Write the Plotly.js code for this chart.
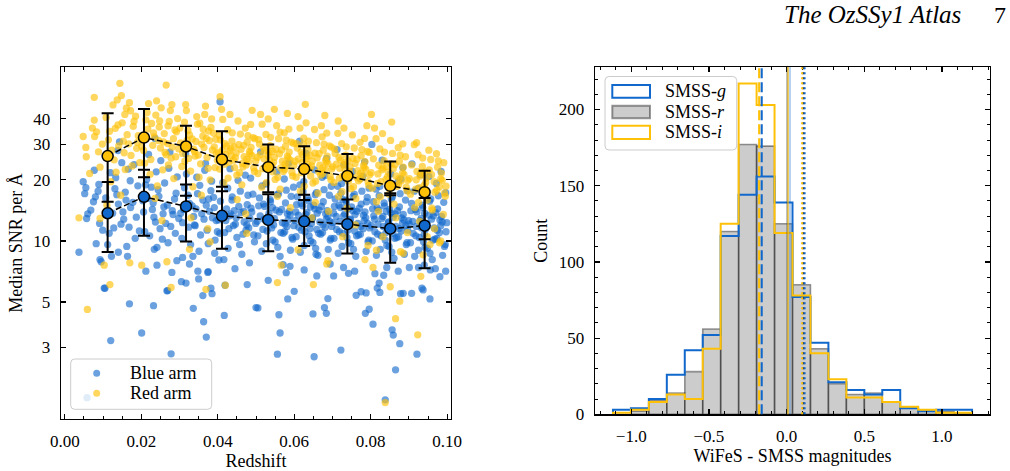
<!DOCTYPE html>
<html>
<head>
<meta charset="utf-8">
<script src="https://cdn.plot.ly/plotly-3.0.1.min.js"></script>
<style>
  html, body { margin: 0; padding: 0; background: #ffffff; }
  #chart { width: 1010px; height: 471px; }
</style>
</head>
<body>
<div id="chart"></div>
<script>
// ---------- Left panel: median SNR per Angstrom against redshift ----------
// Individual spectra, blue arm: [redshift, median SNR]
const blueArm = [
  // sparse low-redshift and low-SNR objects
  [0.0037,8.8],[0.0048,19.6],[0.0055,18.3],[0.0052,17.1],[0.0057,12.9],[0.0060,13.6],[0.0077,22.3],[0.0075,15.6],[0.0080,16.5],[0.0082,9.7],[0.0092,8.1],[0.0095,7.9],[0.0091,12.2],[0.0099,11.3],[0.0089,19.0],[0.0068,14.2],[0.0105,5.85],[0.0087,17.6],[0.0058,1.69],
  [0.0120,3.23],[0.0103,5.86],[0.0112,9.6],[0.0169,4.9],[0.0140,8.8],[0.0164,8.4],[0.0201,3.52],[0.0212,7.1],[0.0232,4.8],[0.0241,7.6],[0.0234,9.1],[0.0269,5.7],[0.0278,2.78],[0.0280,7.0],[0.0267,5.68],[0.0293,8.0],
  [0.0305,6.3],[0.0308,8.3],[0.0317,6.2],[0.0326,7.7],[0.0336,4.66],[0.0348,7.1],[0.0350,6.5],[0.0361,5.38],[0.0363,4.0],[0.0370,3.36],[0.0374,7.0],[0.0382,5.85],[0.0385,5.5],[0.0375,7.07],[0.0392,8.7],
  [0.0403,8.06],[0.0406,48.5],[0.0417,4.3],[0.0419,6.05],[0.0477,6.1],[0.0500,4.7],[0.0445,7.3],[0.0483,7.8],[0.0505,4.68],[0.0532,6.4],[0.0556,2.77],[0.0560,4.33],[0.0563,3.52],[0.0571,7.64],[0.0579,6.98],[0.0583,5.18],[0.0600,5.65],[0.0589,7.5],
  [0.0649,4.37],[0.0652,2.69],[0.0657,8.6],[0.0659,6.73],[0.0679,4.7],[0.0684,4.4],[0.0688,5.2],[0.0626,7.2],[0.0694,7.7],[0.0703,6.73],[0.0722,2.9],[0.0742,6.93],[0.0762,5.4],[0.0775,5.62],[0.0786,4.4],[0.0788,5.55],[0.0796,4.61],[0.0729,7.4],[0.0758,7.1],
  [0.0806,3.89],[0.0817,5.86],[0.0824,5.58],[0.0822,6.2],[0.0834,6.78],[0.0838,1.65],[0.0856,3.65],[0.0859,3.44],[0.0865,2.32],[0.0876,3.12],[0.0878,5.5],[0.0885,5.52],[0.0842,7.4],[0.0872,7.1],[0.0811,6.9],
  [0.0901,7.4],[0.0907,5.52],[0.0921,2.77],[0.0925,7.4],[0.0934,5.85],[0.0937,5.74],[0.0955,5.18],[0.0956,7.2],[0.0981,6.67],[0.0996,7.1],[0.0940,7.6],[0.0969,7.3],
  // main cloud, z = 0.01-0.02
  [0.0113,14.2],[0.0171,19.8],[0.0128,11.6],[0.0149,24.3],[0.0187,13.1],[0.0136,16.9],[0.0162,9.4],[0.0119,21.7],[0.0154,12.8],[0.0178,15.5],[0.0143,30.8],[0.0131,18.1],[0.0195,11.2],[0.0107,16.3],[0.0166,22.6],[0.0125,13.7],[0.0158,17.4],[0.0184,10.3],[0.0139,27.9],[0.0116,10.9],[0.0172,14.6],[0.0147,12.1],[0.0191,18.7],[0.0133,20.5],[0.0160,15.9],[0.0122,8.4],[0.0181,23.8],[0.0152,13.9],[0.0168,11.7],[0.0140,15.2],
  // z = 0.02-0.03
  [0.0204,15.8],[0.0237,12.4],[0.0261,19.3],[0.0219,26.7],[0.0283,13.5],[0.0246,16.6],[0.0209,11.1],[0.0272,22.8],[0.0229,14.3],[0.0255,10.2],[0.0291,17.2],[0.0214,20.1],[0.0268,15.0],[0.0241,9.3],[0.0298,12.9],[0.0226,18.4],[0.0277,11.8],[0.0251,24.9],[0.0233,13.1],[0.0287,16.1],[0.0206,13.9],[0.0259,14.7],[0.0222,10.6],[0.0294,20.7],[0.0244,17.9],[0.0270,9.8],[0.0216,16.2],[0.0281,14.1],[0.0239,21.9],[0.0264,12.2],[0.0211,18.9],[0.0249,11.5],[0.0275,27.4],[0.0231,15.4],[0.0289,10.9],[0.0257,13.6],[0.0236,32.0],
  // z = 0.03-0.04
  [0.0303,13.7],[0.0347,17.1],[0.0372,11.3],[0.0318,21.4],[0.0391,14.6],[0.0329,9.6],[0.0361,15.9],[0.0308,12.3],[0.0384,19.7],[0.0337,13.2],[0.0355,10.7],[0.0396,12.6],[0.0322,16.8],[0.0368,24.1],[0.0341,11.9],[0.0313,18.3],[0.0378,14.0],[0.0351,8.9],[0.0389,16.4],[0.0333,14.9],[0.0364,12.8],[0.0306,10.3],[0.0345,20.6],[0.0375,9.7],[0.0326,15.3],[0.0399,11.1],[0.0358,13.6],[0.0316,26.8],[0.0382,17.7],[0.0339,12.0],[0.0370,15.0],[0.0311,14.3],[0.0353,18.8],[0.0393,10.1],[0.0324,11.7],[0.0366,22.3],[0.0343,14.4],[0.0386,13.0],[0.0335,8.4],[0.0376,16.1],
  // z = 0.04-0.05
  [0.0402,12.7],[0.0438,16.5],[0.0466,10.8],[0.0413,19.4],[0.0489,13.9],[0.0427,9.2],[0.0455,14.8],[0.0481,11.6],[0.0407,15.7],[0.0446,12.1],[0.0472,21.1],[0.0431,13.3],[0.0496,9.9],[0.0418,11.0],[0.0459,17.6],[0.0484,12.9],[0.0423,14.4],[0.0450,10.4],[0.0477,15.1],[0.0410,24.6],[0.0441,11.9],[0.0492,17.0],[0.0434,13.6],[0.0463,8.6],[0.0405,10.9],[0.0469,12.4],[0.0426,18.2],[0.0487,14.5],[0.0448,13.0],[0.0416,8.1],[0.0474,11.3],[0.0437,15.9],[0.0499,12.2],[0.0453,19.9],[0.0421,12.6],[0.0461,13.8],[0.0494,10.7],[0.0443,14.1],[0.0479,16.8],[0.0429,11.5],[0.0457,9.6],[0.0412,13.4],[0.0486,20.4],[0.0468,14.0],[0.0432,22.7],[0.0476,12.0],
  // z = 0.05-0.06
  [0.0503,12.5],[0.0538,15.6],[0.0571,10.9],[0.0516,18.7],[0.0589,13.4],[0.0527,9.7],[0.0552,14.2],[0.0581,11.8],[0.0509,16.3],[0.0546,12.0],[0.0574,20.2],[0.0531,13.1],[0.0596,10.2],[0.0518,11.4],[0.0559,17.1],[0.0584,12.7],[0.0523,14.8],[0.0550,9.9],[0.0577,15.4],[0.0512,27.5],[0.0541,11.6],[0.0592,16.6],[0.0534,13.7],[0.0563,8.4],[0.0505,10.6],[0.0569,12.3],[0.0526,19.1],[0.0587,14.0],[0.0548,12.9],[0.0515,8.9],[0.0575,11.1],[0.0537,16.0],[0.0599,11.9],[0.0554,21.9],[0.0521,12.8],[0.0561,13.9],[0.0594,10.4],[0.0543,14.6],[0.0579,17.8],[0.0529,11.2],[0.0557,9.3],[0.0511,13.3],[0.0586,24.2],[0.0567,14.3],[0.0532,23.0],[0.0576,12.1],[0.0507,14.9],[0.0544,10.1],[0.0582,13.6],[0.0520,15.2],[0.0565,11.0],[0.0598,18.4],[0.0535,12.4],[0.0556,16.9],[0.0590,9.0],
  // z = 0.06-0.07
  [0.0602,12.6],[0.0637,15.8],[0.0669,10.8],[0.0615,18.9],[0.0688,13.2],[0.0626,9.5],[0.0654,14.4],[0.0681,11.7],[0.0608,16.5],[0.0645,12.2],[0.0673,20.6],[0.0630,13.5],[0.0696,10.3],[0.0619,11.3],[0.0658,17.3],[0.0684,12.8],[0.0622,14.9],[0.0649,9.8],[0.0676,15.6],[0.0614,31.0],[0.0641,11.5],[0.0692,16.8],[0.0633,13.8],[0.0662,8.5],[0.0605,10.5],[0.0667,12.4],[0.0625,19.6],[0.0686,14.1],[0.0647,12.9],[0.0616,8.8],[0.0674,11.0],[0.0636,16.2],[0.0698,11.8],[0.0653,22.4],[0.0620,12.7],[0.0660,13.7],[0.0694,10.1],[0.0642,14.7],[0.0678,17.9],[0.0628,11.1],[0.0656,9.2],[0.0611,13.4],[0.0685,25.5],[0.0665,14.2],[0.0631,27.0],[0.0675,12.0],[0.0606,15.1],[0.0643,10.0],[0.0682,13.6],[0.0618,15.3],[0.0664,10.9],[0.0697,18.6],[0.0634,12.3],[0.0655,16.9],[0.0689,9.1],[0.0612,11.7],[0.0648,13.0],[0.0671,14.8],[0.0639,10.6],[0.0693,12.5],[0.0623,17.5],[0.0659,11.4],[0.0680,21.0],[0.0604,13.9],[0.0651,15.0],
  // z = 0.07-0.08
  [0.0701,12.3],[0.0736,15.4],[0.0768,10.7],[0.0714,18.6],[0.0787,13.0],[0.0725,9.4],[0.0753,14.1],[0.0780,11.5],[0.0707,16.1],[0.0744,12.0],[0.0772,20.3],[0.0729,13.3],[0.0795,10.1],[0.0718,11.1],[0.0757,17.0],[0.0783,12.6],[0.0721,14.6],[0.0748,9.7],[0.0775,15.2],[0.0712,28.2],[0.0740,11.3],[0.0791,16.4],[0.0732,13.6],[0.0761,8.4],[0.0704,10.3],[0.0766,12.2],[0.0724,19.2],[0.0785,13.9],[0.0746,12.7],[0.0715,8.7],[0.0773,10.8],[0.0735,15.9],[0.0797,11.6],[0.0752,22.0],[0.0719,12.5],[0.0759,13.5],[0.0793,9.9],[0.0741,14.4],[0.0777,17.6],[0.0727,10.9],[0.0755,9.1],[0.0710,13.2],[0.0784,24.5],[0.0764,14.0],[0.0730,23.7],[0.0774,11.8],[0.0705,14.8],[0.0742,9.8],[0.0781,13.4],[0.0717,15.0],[0.0763,10.6],[0.0796,18.2],[0.0733,12.1],[0.0754,16.6],[0.0788,8.9],[0.0711,11.4],[0.0747,12.8],[0.0770,14.5],[0.0738,10.4],[0.0792,12.2],[0.0722,17.2],[0.0758,11.2],[0.0779,20.8],[0.0703,13.7],[0.0750,14.7],[0.0789,15.6],[0.0727,16.0],
  // z = 0.08-0.09
  [0.0801,11.9],[0.0836,14.9],[0.0868,10.4],[0.0814,18.0],[0.0887,12.7],[0.0825,9.1],[0.0853,13.7],[0.0880,11.2],[0.0807,15.6],[0.0844,11.7],[0.0872,19.7],[0.0829,12.9],[0.0895,9.8],[0.0818,10.8],[0.0857,16.5],[0.0883,12.2],[0.0821,14.2],[0.0848,9.4],[0.0875,14.7],[0.0803,29.9],[0.0840,11.0],[0.0891,15.9],[0.0832,13.2],[0.0861,8.2],[0.0804,10.0],[0.0866,11.8],[0.0824,18.6],[0.0885,13.5],[0.0846,12.3],[0.0815,8.5],[0.0873,10.5],[0.0835,15.4],[0.0897,11.3],[0.0852,21.4],[0.0819,12.1],[0.0859,13.1],[0.0893,9.6],[0.0841,14.0],[0.0877,17.1],[0.0827,10.6],[0.0855,8.8],[0.0810,12.8],[0.0884,23.0],[0.0864,13.6],[0.0830,25.0],[0.0874,11.5],[0.0805,14.4],[0.0842,9.5],[0.0881,13.0],[0.0817,14.6],[0.0863,10.3],[0.0896,17.7],[0.0833,11.8],[0.0854,16.1],[0.0888,8.6],[0.0811,11.1],[0.0847,12.4],[0.0870,14.1],[0.0838,10.1],[0.0892,11.9],[0.0822,16.7],[0.0858,10.9],[0.0879,20.2],[0.0808,13.3],[0.0850,14.3],[0.0899,12.6],
  // z = 0.09-0.10
  [0.0901,12.1],[0.0936,14.6],[0.0968,10.2],[0.0914,17.6],[0.0987,12.4],[0.0925,9.0],[0.0953,13.4],[0.0980,11.0],[0.0907,15.3],[0.0944,11.5],[0.0972,19.2],[0.0929,12.6],[0.0995,9.6],[0.0918,10.6],[0.0957,16.1],[0.0983,11.9],[0.0921,13.9],[0.0948,9.2],[0.0975,14.4],[0.0908,24.0],[0.0940,10.8],[0.0991,15.5],[0.0932,12.9],[0.0961,8.1],[0.0904,9.8],[0.0966,11.6],[0.0924,18.1],[0.0985,13.2],[0.0946,12.0],[0.0915,8.4],[0.0973,10.3],[0.0935,15.0],[0.0997,11.1],[0.0952,20.8],[0.0919,11.8],[0.0959,12.8],[0.0993,9.4],[0.0941,13.7],[0.0977,16.7],[0.0927,10.4],[0.0955,8.7],[0.0910,12.5],[0.0984,22.0],[0.0964,13.3],[0.0930,21.2],[0.0974,11.3],[0.0905,14.1],[0.0942,9.3],[0.0981,12.7],[0.0917,14.3],[0.0963,10.1],[0.0996,17.3],[0.0933,11.6],[0.0954,15.7],[0.0988,8.5],[0.0911,10.9],[0.0947,12.2],[0.0970,13.8],[0.0938,9.9],[0.0999,12.3]
];

// Individual spectra, red arm: [redshift, median SNR]
const redArm = [
  // sparse low-redshift and low-SNR objects
  [0.0037,13.0],[0.0048,32.7],[0.0055,28.9],[0.0056,26.0],[0.0059,4.6],[0.0077,51.0],[0.0077,39.4],[0.0083,34.5],[0.0078,32.7],[0.0092,23.1],[0.0092,12.9],[0.0065,21.5],[0.0088,27.5],[0.0072,36.0],[0.0098,30.0],
  [0.0103,7.6],[0.0118,6.1],[0.0170,7.8],[0.0201,7.6],[0.0267,7.9],[0.0278,5.9],[0.0326,9.1],[0.0369,5.78],[0.0380,9.9],[0.0420,6.05],[0.0476,10.9],[0.0556,6.24],[0.0566,7.6],[0.0610,9.05],[0.0650,6.1],[0.0685,7.7],[0.0688,8.0],[0.0806,7.4],[0.0785,8.1],[0.0815,9.0],[0.0851,5.95],[0.0865,4.14],[0.0876,5.05],[0.0878,8.85],[0.0885,8.7],[0.0838,1.6],[0.0923,3.45],[0.0931,6.7],[0.0937,8.55],[0.0955,9.6],[0.0980,9.8],
  // z = 0.01-0.02
  [0.0114,31.5],[0.0172,43.8],[0.0129,25.1],[0.0150,38.2],[0.0188,28.6],[0.0137,49.5],[0.0163,33.4],[0.0120,19.6],[0.0155,27.2],[0.0179,36.7],[0.0144,59.8],[0.0132,35.9],[0.0196,24.3],[0.0108,40.6],[0.0167,30.1],[0.0126,46.8],[0.0158,22.5],[0.0185,41.2],[0.0141,29.4],[0.0117,34.7],[0.0173,26.4],[0.0148,52.0],[0.0192,33.0],[0.0134,21.8],[0.0161,45.1],[0.0123,28.0],[0.0181,38.9],[0.0153,31.0],[0.0169,48.0],[0.0139,37.3],[0.0146,16.8],[0.0176,23.4],[0.0110,15.0],[0.0157,42.0],[0.0190,30.6],
  // z = 0.02-0.03
  [0.0204,33.1],[0.0238,41.7],[0.0262,27.3],[0.0219,47.5],[0.0284,31.9],[0.0247,36.4],[0.0209,24.2],[0.0273,38.8],[0.0230,29.6],[0.0256,22.4],[0.0292,34.5],[0.0215,43.0],[0.0269,30.2],[0.0242,18.7],[0.0298,28.4],[0.0227,37.9],[0.0278,25.6],[0.0252,45.3],[0.0234,32.6],[0.0288,35.2],[0.0206,27.9],[0.0260,33.8],[0.0223,21.3],[0.0295,40.1],[0.0245,31.3],[0.0271,23.7],[0.0217,35.6],[0.0281,29.0],[0.0240,49.0],[0.0265,26.6],[0.0212,39.5],[0.0250,28.7],[0.0276,43.9],[0.0232,34.1],[0.0290,26.0],[0.0258,30.8],[0.0265,58.6],[0.0225,25.2],[0.0285,20.3],[0.0248,39.0],[0.0236,16.2],[0.0270,36.9],[0.0201,29.2],[0.0254,12.6],[0.0280,47.0],
  // z = 0.03-0.04
  [0.0303,30.4],[0.0347,37.6],[0.0372,25.8],[0.0318,43.9],[0.0391,29.1],[0.0329,22.1],[0.0361,32.8],[0.0308,27.0],[0.0384,39.9],[0.0337,28.3],[0.0355,24.0],[0.0396,26.9],[0.0322,35.0],[0.0368,46.2],[0.0341,26.2],[0.0313,38.5],[0.0378,31.2],[0.0351,20.6],[0.0389,34.0],[0.0333,31.8],[0.0364,28.9],[0.0306,23.3],[0.0345,41.0],[0.0375,22.8],[0.0326,33.3],[0.0399,25.0],[0.0358,30.0],[0.0316,47.0],[0.0382,36.3],[0.0339,27.6],[0.0370,32.0],[0.0311,29.8],[0.0353,38.0],[0.0393,23.0],[0.0324,25.5],[0.0366,42.0],[0.0343,30.9],[0.0386,28.1],[0.0335,18.5],[0.0376,34.8],[0.0301,36.0],[0.0349,26.5],[0.0380,20.0],[0.0320,31.4],[0.0362,35.5],[0.0395,31.7],[0.0330,13.0],[0.0374,11.5],[0.0357,16.8],[0.0314,24.7],
  // z = 0.04-0.05
  [0.0402,27.3],[0.0438,34.1],[0.0466,23.2],[0.0413,39.7],[0.0489,26.4],[0.0427,20.4],[0.0455,29.8],[0.0481,24.6],[0.0407,31.5],[0.0446,25.7],[0.0472,36.0],[0.0431,27.8],[0.0496,22.0],[0.0418,23.9],[0.0459,33.6],[0.0484,26.9],[0.0423,29.4],[0.0450,21.1],[0.0477,30.7],[0.0410,44.5],[0.0441,25.0],[0.0492,32.3],[0.0434,28.6],[0.0463,18.9],[0.0405,22.6],[0.0469,26.0],[0.0426,35.3],[0.0487,28.9],[0.0448,27.1],[0.0416,19.3],[0.0474,23.7],[0.0437,31.0],[0.0499,24.8],[0.0453,39.0],[0.0421,26.7],[0.0461,28.3],[0.0494,22.9],[0.0443,29.1],[0.0479,33.0],[0.0429,24.4],[0.0457,21.7],[0.0412,28.0],[0.0486,37.5],[0.0468,29.6],[0.0432,42.0],[0.0476,25.3],[0.0404,33.2],[0.0444,23.0],[0.0483,27.6],[0.0419,30.2],[0.0465,24.1],[0.0497,31.9],[0.0435,26.3],[0.0406,51.4],[0.0490,44.0],[0.0451,16.0],[0.0473,13.6],
  // z = 0.05-0.06
  [0.0503,25.8],[0.0538,32.4],[0.0571,22.0],[0.0516,37.6],[0.0589,25.1],[0.0527,19.4],[0.0552,28.3],[0.0581,23.4],[0.0509,30.0],[0.0546,24.4],[0.0574,34.1],[0.0531,26.4],[0.0596,20.9],[0.0518,22.7],[0.0559,31.9],[0.0584,25.6],[0.0523,27.9],[0.0550,20.1],[0.0577,29.2],[0.0512,42.0],[0.0541,23.8],[0.0592,30.7],[0.0534,27.2],[0.0563,18.0],[0.0505,21.5],[0.0569,24.7],[0.0526,33.5],[0.0587,27.4],[0.0548,25.8],[0.0515,18.4],[0.0575,22.5],[0.0537,29.5],[0.0599,23.6],[0.0554,37.0],[0.0521,25.4],[0.0561,26.9],[0.0594,21.8],[0.0543,27.6],[0.0579,31.4],[0.0529,23.2],[0.0557,20.6],[0.0511,26.6],[0.0586,35.6],[0.0567,28.1],[0.0532,39.9],[0.0576,24.0],[0.0507,31.6],[0.0544,21.9],[0.0582,26.2],[0.0520,28.7],[0.0565,22.9],[0.0598,30.3],[0.0535,25.0],[0.0548,44.5],[0.0582,42.5],[0.0556,16.6],[0.0590,14.6],[0.0528,12.5],[0.0563,34.4],[0.0539,23.0],
  // z = 0.06-0.07
  [0.0602,24.7],[0.0637,31.0],[0.0669,21.1],[0.0615,36.0],[0.0688,24.1],[0.0626,18.6],[0.0654,27.1],[0.0681,22.4],[0.0608,28.7],[0.0645,23.4],[0.0673,32.6],[0.0630,25.3],[0.0696,20.0],[0.0619,21.7],[0.0658,30.5],[0.0684,24.5],[0.0622,26.7],[0.0649,19.3],[0.0676,28.0],[0.0610,41.0],[0.0641,22.8],[0.0692,29.4],[0.0633,26.0],[0.0662,17.2],[0.0605,20.6],[0.0667,23.6],[0.0625,32.1],[0.0686,26.2],[0.0647,24.7],[0.0616,17.6],[0.0674,21.5],[0.0636,28.2],[0.0698,22.6],[0.0653,35.4],[0.0620,24.3],[0.0660,25.7],[0.0694,20.8],[0.0642,26.4],[0.0678,30.0],[0.0628,22.2],[0.0656,19.7],[0.0611,25.4],[0.0685,34.0],[0.0665,26.9],[0.0631,38.2],[0.0675,23.0],[0.0606,30.2],[0.0643,20.9],[0.0682,25.0],[0.0618,27.4],[0.0664,21.9],[0.0697,29.0],[0.0634,23.9],[0.0629,47.1],[0.0680,41.5],[0.0655,15.5],[0.0690,14.0],[0.0646,13.0],[0.0671,37.0],[0.0624,29.9],
  // z = 0.07-0.08
  [0.0701,23.2],[0.0736,29.1],[0.0768,19.8],[0.0714,33.9],[0.0787,22.6],[0.0725,17.5],[0.0753,25.5],[0.0780,21.1],[0.0707,27.0],[0.0744,22.0],[0.0772,30.6],[0.0729,23.8],[0.0795,18.8],[0.0718,20.4],[0.0757,28.7],[0.0783,23.0],[0.0721,25.1],[0.0748,18.1],[0.0775,26.3],[0.0715,39.0],[0.0740,21.4],[0.0791,27.6],[0.0732,24.4],[0.0761,16.2],[0.0704,19.4],[0.0766,22.2],[0.0724,30.2],[0.0785,24.6],[0.0746,23.2],[0.0716,16.6],[0.0773,20.2],[0.0735,26.5],[0.0797,21.2],[0.0752,33.3],[0.0719,22.8],[0.0759,24.1],[0.0793,19.6],[0.0741,24.8],[0.0777,28.2],[0.0727,20.9],[0.0755,18.5],[0.0710,23.9],[0.0784,32.0],[0.0764,25.3],[0.0730,36.0],[0.0774,21.6],[0.0705,28.4],[0.0742,19.7],[0.0781,23.5],[0.0717,25.8],[0.0763,20.6],[0.0796,27.3],[0.0733,22.5],[0.0790,37.0],[0.0760,12.0],[0.0727,10.5],[0.0793,9.5],[0.0738,14.5],
  // z = 0.08-0.09
  [0.0801,21.7],[0.0836,27.4],[0.0868,18.6],[0.0814,31.9],[0.0887,21.3],[0.0825,16.5],[0.0853,24.0],[0.0880,19.8],[0.0807,25.4],[0.0844,20.7],[0.0872,28.8],[0.0829,22.4],[0.0895,17.7],[0.0818,19.2],[0.0857,27.0],[0.0883,21.6],[0.0821,23.6],[0.0848,17.0],[0.0875,24.7],[0.0810,36.0],[0.0840,20.1],[0.0891,26.0],[0.0832,22.9],[0.0861,15.2],[0.0804,18.2],[0.0866,20.9],[0.0824,28.4],[0.0885,23.1],[0.0846,21.8],[0.0815,15.6],[0.0873,19.0],[0.0835,24.9],[0.0897,19.9],[0.0852,31.3],[0.0819,21.4],[0.0859,22.7],[0.0893,18.4],[0.0841,23.3],[0.0877,26.5],[0.0827,19.6],[0.0855,38.5],[0.0802,42.0],[0.0884,30.1],[0.0864,23.8],[0.0831,33.8],[0.0874,20.3],[0.0866,13.0],[0.0896,11.0],[0.0832,10.5],[0.0820,14.0],
  // z = 0.09-0.10
  [0.0901,20.3],[0.0936,25.6],[0.0968,17.4],[0.0914,29.8],[0.0987,19.9],[0.0925,15.5],[0.0953,22.4],[0.0980,18.5],[0.0907,23.7],[0.0944,19.4],[0.0972,26.9],[0.0929,20.9],[0.0995,16.6],[0.0918,18.0],[0.0957,25.2],[0.0983,20.2],[0.0921,22.0],[0.0948,15.9],[0.0975,23.1],[0.0920,30.5],[0.0940,18.8],[0.0991,24.3],[0.0932,21.4],[0.0961,14.2],[0.0904,17.0],[0.0966,19.6],[0.0924,26.6],[0.0985,21.6],[0.0946,20.4],[0.0915,14.6],[0.0973,17.8],[0.0935,23.3],[0.0997,18.6],[0.0952,28.0],[0.0919,20.0],[0.0959,21.2],[0.0993,17.2],[0.0941,21.8],[0.0977,24.8],[0.0927,18.3],[0.0960,14.5],[0.0990,13.5],[0.0928,12.5],[0.0967,11.5],[0.0948,10.5],[0.0983,10.0]
];

// Binned medians with their upper and lower percentile bounds
const binRedshift = [0.0112, 0.0207, 0.0317, 0.0411, 0.0532, 0.0626, 0.0739, 0.0851, 0.0941];
const blueMedian  = [13.7, 16.5, 14.8, 13.3, 12.7, 12.5, 12.1, 11.5, 11.9];
const blueUpper   = [19.5, 22.4, 19.0, 18.5, 17.0, 16.9, 16.0, 17.2, 16.3];
const blueLower   = [8.83, 10.6, 9.93, 9.16, 8.89, 9.45, 8.67, 7.82, 7.33];
const redMedian   = [26.2, 32.3, 29.2, 25.2, 23.1, 22.6, 20.9, 18.7, 17.4];
const redUpper    = [42.6, 44.7, 37.0, 34.7, 29.9, 29.3, 26.8, 24.6, 22.2];
const redLower    = [15.6, 20.6, 16.7, 17.6, 17.4, 15.9, 14.4, 16.8, 10.2];
const snrTicks    = [3, 5, 10, 20, 30, 40];

// ---------- Right panel: WiFeS minus SkyMapper magnitude offsets ----------
const binEdges = [-1.118, -1.0024, -0.8868, -0.7712, -0.6556, -0.54, -0.4244, -0.3088, -0.1932, -0.0776,
                  0.038, 0.1536, 0.2692, 0.3848, 0.5004, 0.616, 0.7316, 0.8472, 0.9628, 1.0784, 1.194];
const countG = [3, 4, 10, 26, 42, 52, 117, 144, 156, 139, 77, 47, 21, 16, 13, 16, 4, 2, 3, 3];
const countR = [0, 2, 9, 14, 28, 56, 120, 177, 176, 125, 85, 43, 20, 13, 14, 8, 4, 2, 2, 1];
const countI = [1, 3, 8, 13, 10, 43, 125, 217, 203, 119, 78, 40, 23, 11, 11, 8, 5, 3, 1, 1];
// summary offsets per band: [dashed, solid, dotted]
const linesG = [-0.160, 0.022, 0.116];
const linesR = [-0.168, 0.005, 0.108];
const linesI = [-0.177, 0.009, 0.100];

// ---------- styling ----------
const W = 1010, H = 471;
const BLUE = 'rgb(16,104,204)';
const BLUE_A = 'rgba(16,104,204,0.62)';
const AMBER = 'rgb(255,193,7)';
const AMBER_A = 'rgba(255,193,7,0.65)';
const FONT = 'Liberation Serif, Times New Roman, serif';

const px = x => x / W;
const py = y => 1 - y / H;

function roundRect(x0, y0, x1, y1, r) {
  const X = v => px(v).toFixed(5), Y = v => py(v).toFixed(5);
  return 'M' + X(x0 + r) + ',' + Y(y0) +
    ' L' + X(x1 - r) + ',' + Y(y0) + ' Q' + X(x1) + ',' + Y(y0) + ' ' + X(x1) + ',' + Y(y0 + r) +
    ' L' + X(x1) + ',' + Y(y1 - r) + ' Q' + X(x1) + ',' + Y(y1) + ' ' + X(x1 - r) + ',' + Y(y1) +
    ' L' + X(x0 + r) + ',' + Y(y1) + ' Q' + X(x0) + ',' + Y(y1) + ' ' + X(x0) + ',' + Y(y1 - r) +
    ' L' + X(x0) + ',' + Y(y0 + r) + ' Q' + X(x0) + ',' + Y(y0) + ' ' + X(x0 + r) + ',' + Y(y0) + ' Z';
}

// outline of a step histogram from its bin edges and counts
function stepOutline(edges, counts) {
  const xs = [edges[0]], ys = [0];
  counts.forEach((c, k) => { xs.push(edges[k], edges[k + 1]); ys.push(c, c); });
  xs.push(edges[edges.length - 1]); ys.push(0);
  return { xs, ys };
}

const centers = binEdges.slice(0, -1).map((e, k) => (e + binEdges[k + 1]) / 2);
const widths = binEdges.slice(0, -1).map((e, k) => binEdges[k + 1] - e);
const stepG = stepOutline(binEdges, countG);
const stepI = stepOutline(binEdges, countI);

const traces = [
  { type: 'scatter', mode: 'markers', x: blueArm.map(p => p[0]), y: blueArm.map(p => p[1]),
    marker: { size: 7.3, color: BLUE_A, line: { width: 0 } }, name: 'Blue arm', xaxis: 'x', yaxis: 'y' },
  { type: 'scatter', mode: 'markers', x: redArm.map(p => p[0]), y: redArm.map(p => p[1]),
    marker: { size: 7.3, color: AMBER_A, line: { width: 0 } }, name: 'Red arm', xaxis: 'x', yaxis: 'y' },
  { type: 'scatter', mode: 'lines+markers', x: binRedshift, y: redMedian,
    line: { color: 'black', width: 1.5, dash: '6px,3px' },
    marker: { size: 11, color: AMBER, line: { color: 'black', width: 1.5 } },
    error_y: { type: 'data', symmetric: false, array: redUpper.map((u, k) => u - redMedian[k]),
      arrayminus: redLower.map((l, k) => redMedian[k] - l), color: 'black', thickness: 2, width: 6 },
    xaxis: 'x', yaxis: 'y' },
  { type: 'scatter', mode: 'lines+markers', x: binRedshift, y: blueMedian,
    line: { color: 'black', width: 1.5, dash: '6px,3px' },
    marker: { size: 11, color: BLUE, line: { color: 'black', width: 1.5 } },
    error_y: { type: 'data', symmetric: false, array: blueUpper.map((u, k) => u - blueMedian[k]),
      arrayminus: blueLower.map((l, k) => blueMedian[k] - l), color: 'black', thickness: 2, width: 6 },
    xaxis: 'x', yaxis: 'y' },
  { type: 'bar', x: centers, y: countR, width: widths, name: 'SMSS-r',
    marker: { color: 'rgba(128,128,128,0.4)', line: { color: 'rgba(0,0,0,0.4)', width: 1.6 } },
    xaxis: 'x2', yaxis: 'y2' },
  { type: 'scatter', mode: 'lines', x: stepG.xs, y: stepG.ys, name: 'SMSS-g',
    line: { color: BLUE, width: 2 }, xaxis: 'x2', yaxis: 'y2' },
  { type: 'scatter', mode: 'lines', x: stepI.xs, y: stepI.ys, name: 'SMSS-i',
    line: { color: AMBER, width: 2 }, xaxis: 'x2', yaxis: 'y2' }
];

// vertical summary lines on the histogram
const lineDash = ['10px,4px', 'solid', '2px,3px'];
const lineColors = {
  r: ['rgba(150,150,150,0.25)', 'rgba(60,60,60,0.5)', 'rgba(20,20,20,0.9)'],
  i: [AMBER, 'rgba(255,193,7,0.55)', AMBER],
  g: [BLUE, 'rgba(16,104,204,0.3)', BLUE]
};
const shapes = [];
[['r', linesR], ['i', linesI], ['g', linesG]].forEach(([band, vals]) => {
  vals.forEach((v, k) => {
    shapes.push({ type: 'line', xref: 'x2', yref: 'y2 domain', x0: v, x1: v, y0: 0, y1: 1,
      line: { color: lineColors[band][k], width: 2, dash: lineDash[k] }, layer: 'above' });
  });
});

// left legend
shapes.push({ type: 'path', xref: 'paper', yref: 'paper', path: roundRect(70.7, 359, 211.7, 409.3, 4),
  fillcolor: 'rgba(255,255,255,0.8)', line: { color: 'rgba(204,204,204,1)', width: 1 }, layer: 'above' });
[[373.3, BLUE_A], [393.3, AMBER_A]].forEach(([cy, col]) => {
  shapes.push({ type: 'circle', xref: 'paper', yref: 'paper', x0: px(96.7 - 3.5), x1: px(96.7 + 3.5),
    y0: py(cy + 3.5), y1: py(cy - 3.5), fillcolor: col, line: { width: 0 }, layer: 'above' });
});
// right legend
shapes.push({ type: 'path', xref: 'paper', yref: 'paper', path: roundRect(605, 76.5, 736.7, 150, 4),
  fillcolor: 'rgba(255,255,255,0.8)', line: { color: 'rgba(204,204,204,1)', width: 1 }, layer: 'above' });
[[85, 97.7, 'white', BLUE], [105.7, 118.3, 'rgba(128,128,128,0.4)', 'rgba(0,0,0,0.4)'], [125.7, 139, 'white', AMBER]]
  .forEach(([t, b, fill, edge]) => {
    shapes.push({ type: 'rect', xref: 'paper', yref: 'paper', x0: px(612.3), x1: px(650), y0: py(b), y1: py(t),
      fillcolor: fill, line: { color: edge, width: 2 }, layer: 'above' });
  });

const txt = (x, y, text, opts) => Object.assign({ xref: 'paper', yref: 'paper', x: px(x), y: py(y), text,
  showarrow: false, xanchor: 'left', yanchor: 'middle', font: { family: FONT, size: 18, color: 'black' }, borderpad: 0 }, opts || {});

const annotations = [
  txt(129, 373.3, 'Blue arm'), txt(129, 393.3, 'Red arm'),
  txt(664, 91.4, 'SMSS-<i>g</i>'), txt(664, 112, 'SMSS-<i>r</i>'), txt(664, 132.4, 'SMSS-<i>i</i>'),
  txt(962, 15, '<i>The OzSSy1 Atlas</i>', { xanchor: 'right', font: { family: FONT, size: 25, color: 'black' } }),
  txt(1000, 15, '7', { xanchor: 'center', font: { family: FONT, size: 24, color: 'black' } })
];

const axisBase = {
  showline: true, linecolor: 'black', linewidth: 1.3, mirror: 'allticks',
  ticks: 'inside', ticklen: 5, tickwidth: 1.2, tickcolor: 'black',
  showgrid: false, zeroline: false, automargin: false,
  tickfont: { family: FONT, size: 17, color: 'black' }
};

const layout = {
  width: W, height: H, margin: { l: 0, r: 0, t: 0, b: 0 },
  paper_bgcolor: 'white', plot_bgcolor: 'rgba(0,0,0,0)', showlegend: false,
  font: { family: FONT, size: 17, color: 'black' },
  barmode: 'overlay', bargap: 0,
  xaxis: Object.assign({}, axisBase, {
    domain: [px(61), px(451)], range: [-0.001, 0.101], tick0: 0, dtick: 0.02, tickformat: '.2f',
    minor: { dtick: 0.005, ticks: 'inside', ticklen: 3, tickwidth: 1, tickcolor: 'black' },
    ticklabelstandoff: 6,
    title: { text: 'Redshift', font: { family: FONT, size: 18 }, standoff: 4 }
  }),
  yaxis: Object.assign({}, axisBase, {
    domain: [py(419), py(67)], type: 'log', range: [0.123, 1.857],
    tickvals: snrTicks, ticktext: snrTicks.map(String), ticklabelstandoff: 6,
    title: { text: 'Median SNR per Å', font: { family: FONT, size: 18 }, standoff: 6 }
  }),
  xaxis2: Object.assign({}, axisBase, {
    anchor: 'y2', domain: [px(595), px(990)], range: [-1.2336, 1.3096],
    tickvals: [-1, -0.5, 0, 0.5, 1], tickformat: '.1f',
    minor: { dtick: 0.1, tick0: 0, ticks: 'inside', ticklen: 3, tickwidth: 1, tickcolor: 'black' },
    ticklabelstandoff: 6,
    title: { text: 'WiFeS - SMSS magnitudes', font: { family: FONT, size: 18 }, standoff: 4 }
  }),
  yaxis2: Object.assign({}, axisBase, {
    anchor: 'x2', domain: [py(414.3), py(67)], range: [0, 227.9], dtick: 50, tick0: 0,
    minor: { dtick: 10, ticks: 'inside', ticklen: 3, tickwidth: 1, tickcolor: 'black' },
    ticklabelstandoff: 6,
    title: { text: 'Count', font: { family: FONT, size: 18 }, standoff: 6 }
  }),
  shapes, annotations
};

Plotly.newPlot('chart', traces, layout, { displayModeBar: false, staticPlot: true });
</script>
</body>
</html>
